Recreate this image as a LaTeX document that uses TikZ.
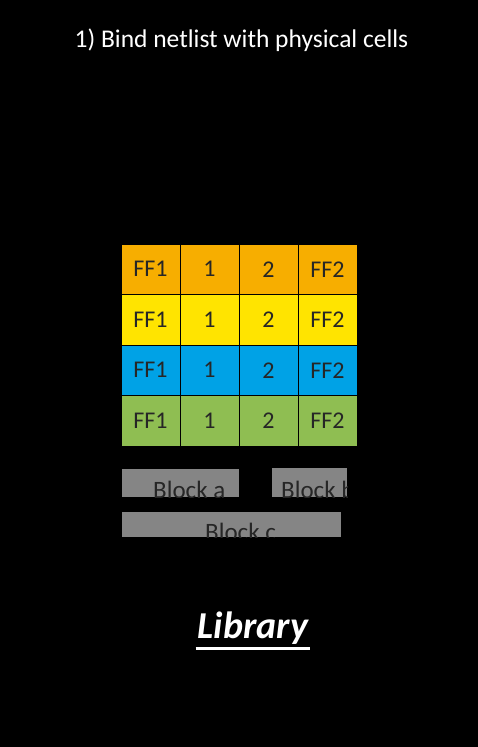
\documentclass[tikz,border=0pt]{standalone}
\usepackage{fontspec}
\setmainfont{Carlito}

\definecolor{cOrange}{HTML}{F7AE00}
\definecolor{cYellow}{HTML}{FFE400}
\definecolor{cBlue}{HTML}{00A2E6}
\definecolor{cGreen}{HTML}{8FBE52}
\definecolor{blockgray}{HTML}{858585}
\definecolor{inktext}{HTML}{262626}

\tikzset{
  cell/.style={draw=black, line width=0.8pt, minimum width=59pt, minimum height=50.5pt,
    inner sep=0pt, text=inktext, font=\fontsize{24}{28}\selectfont},
  blocklabel/.style={anchor=base west, inner sep=0pt, text=inktext,
    font=\fontsize{25}{29}\selectfont}
}

\begin{document}
\begin{tikzpicture}[x=1pt, y=-1pt]

    \fill[black] (0,0) rectangle (478,747);
    \useasboundingbox (0,0) rectangle (478,747);

    \node[text=white, font=\fontsize{25.5}{30}\selectfont] (title) at (241.5,40) {1) Bind netlist with physical cells};

    % cell rows
    \foreach \r/\col in {0/cOrange, 1/cYellow, 2/cBlue, 3/cGreen} {
      \foreach \c/\lbl in {0/FF1, 1/1, 2/2, 3/FF2} {
        \node[cell, fill=\col] (c\r\c) at ({150.5+59*\c}, {269.25+50.5*\r}) {\lbl};
      }
    }

    % blocks, text cut by the box
    \fill[blockgray] (122,469) rectangle (239,497);
    \begin{scope}
      \clip (122,469) rectangle (239,497);
      \node[blocklabel] (blocka) at (153,498) {Block a};
    \end{scope}

    \fill[blockgray] (272,468) rectangle (347,497);
    \begin{scope}
      \clip (272,468) rectangle (347,497);
      \node[blocklabel] (blockb) at (281,498) {Block b};
    \end{scope}

    \fill[blockgray] (122,512) rectangle (341,537);
    \begin{scope}
      \clip (122,512) rectangle (341,537);
      \node[blocklabel] (blockc) at (205,540) {Block c};
    \end{scope}

    \node[text=white, inner sep=0pt, font=\fontsize{38}{44}\selectfont\bfseries\itshape] (lib) at (253,628) {Library};
    \draw[white, line width=2.5pt] ([xshift=-2pt, yshift=-4pt]lib.south west) -- ([xshift=2pt, yshift=-4pt]lib.south east);

  \end{tikzpicture}
\end{document}
